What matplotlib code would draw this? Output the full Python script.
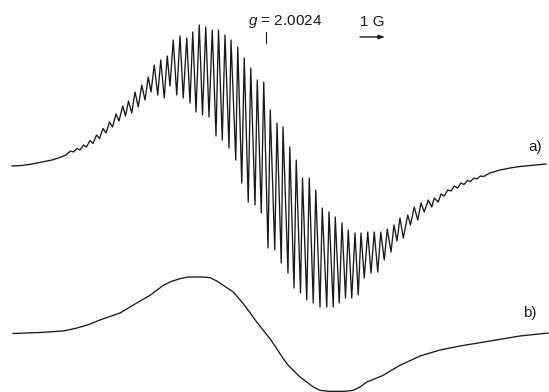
import matplotlib
matplotlib.use("Agg")
import matplotlib.pyplot as plt

plt.rcParams["font.family"] = ["Liberation Sans", "DejaVu Sans"]
plt.rcParams["mathtext.fontset"] = "custom"
plt.rcParams["mathtext.it"] = "Liberation Sans:italic"
plt.rcParams["mathtext.rm"] = "Liberation Sans"

# Spectrum a): field offset from g = 2.0024 (G) and first-derivative intensity (arb. units)
field_a = [
    -10.16, -9.76, -9.36, -8.96, -8.56, -8.24, -8.00,
    -7.82, -7.70, -7.56, -7.44, -7.30, -7.18, -7.04, -6.92, -6.78, -6.66,
    -6.52, -6.40, -6.26, -6.14, -6.00, -5.88, -5.73, -5.62, -5.50, -5.37,
    -5.24, -5.11, -4.97, -4.84, -4.71, -4.60, -4.47, -4.33, -4.21, -4.07,
    -3.95, -3.84, -3.71, -3.57, -3.44, -3.31, -3.17, -3.04, -2.93, -2.80,
    -2.67, -2.54, -2.41, -2.28, -2.15, -2.00, -1.90, -1.75, -1.64, -1.48,
    -1.40, -1.21, -1.13, -0.97, -0.87, -0.71, -0.61, -0.44, -0.35, -0.19,
    -0.09, 0.08, 0.17, 0.35, 0.44, 0.61, 0.68, 0.88, 0.95, 1.12,
    1.21, 1.38, 1.46, 1.63, 1.73, 1.89, 1.99, 2.16, 2.25, 2.43,
    2.52, 2.69, 2.77, 2.93, 3.04, 3.18, 3.29, 3.43, 3.56, 3.69,
    3.80, 3.93, 4.07, 4.20, 4.33, 4.47, 4.59, 4.73, 4.85, 5.00,
    5.12, 5.24, 5.36, 5.49, 5.67, 5.78, 5.93, 6.07, 6.20, 6.33,
    6.49, 6.63, 6.73, 6.89, 7.00, 7.13, 7.27, 7.40, 7.53, 7.66,
    7.80, 7.92, 8.06, 8.18, 8.32, 8.44, 8.58, 8.70,
    8.96, 9.36, 9.76, 10.16, 10.56, 10.96, 11.20,
]
intensity_a = [
    -1, -0.5, 1, 3, 5, 7.5, 10,
    14, 13, 16.5, 15, 20, 18, 24.5, 21.5, 30, 26.5,
    36.5, 32, 43, 38, 51, 44, 59, 49, 64, 52,
    73, 58, 80, 65, 88, 73, 100, 70, 105, 67,
    109, 79, 125, 70, 129, 67, 127, 62, 133, 53,
    140, 50, 138, 48, 135, 29, 135, 25, 130, 17,
    125, 5, 118, -18, 107, -37, 97, -40, 85, -48,
    83, -83, 55, -85, 42, -98, 38, -108, 18, -123,
    5, -128, -13, -135, -13, -138, -25, -142, -43, -142,
    -47, -142, -52, -138, -58, -133, -65, -133, -68, -130,
    -68, -113, -67, -108, -67, -107, -67, -95, -64, -87,
    -60, -76, -53, -73, -50, -60, -42, -55, -38, -47,
    -35, -42, -33, -37, -29, -31, -25, -26, -21, -23,
    -18, -19.5, -15.5, -16.5, -13, -14, -11, -11.5,
    -8, -5, -3, -1.5, -0.5, 0.5, 1,
]

# Spectrum b): same field axis, broad unresolved line
field_b = [
    -10.12, -9.04, -8.12, -7.64, -7.14, -6.64, -5.84, -5.24, -4.64, -4.37,
    -4.11, -3.77, -3.44, -3.11, -2.77, -2.51, -2.24, -1.97, -1.71, -1.31,
    -1.11, -0.91, -0.64, -0.37, -0.11, 0.16, 0.43, 0.69, 0.89, 1.09,
    1.36, 1.63, 1.89, 2.16, 2.49, 2.83, 3.16, 3.49, 3.76, 4.03,
    4.36, 4.69, 5.02, 5.36, 6.16, 6.96, 7.76, 8.96, 10.16, 11.28,
]
intensity_b = [
    -0.5, 0.5, 2, 4.5, 8, 13, 20, 29, 37.7, 42.7,
    47.7, 51.7, 54.3, 56, 56, 56, 55.3, 52, 47.7, 41,
    35.3, 29.3, 20.3, 11, 2.7, -5.7, -15.7, -25.7, -32.3, -37.3,
    -44, -49, -54, -57.3, -58.3, -58.3, -58.3, -57.3, -54, -49,
    -45.7, -42.3, -37.3, -32.3, -23, -17, -13, -8, -3, 0,
]

offset_b = -168          # vertical stacking of trace b below trace a
g_marker_field = 0.0     # position of g = 2.0024
scale_start, scale_len = 3.76, 1.0   # 1 G scale bar

fig = plt.figure(figsize=(5.49, 3.92), dpi=100)
ax = fig.add_axes([0, 0, 1, 1])
ax.set_xlim(-10.64, 11.32)
ax.set_ylim(-227, 165)
ax.axis("off")

line_kw = dict(color="#1a1a1a", lw=0.95, solid_joinstyle="round")
ax.plot(field_a, intensity_a, **line_kw)
ax.plot(field_b, [v + offset_b for v in intensity_b], **line_kw)

ax.text(10.76, 18, "a)", fontsize=11, ha="center", va="center", color="#1a1a1a")
ax.text(10.56, -148, "b)", fontsize=11, ha="center", va="center", color="#1a1a1a")

# g-value marker
ax.text(-0.72, 143, "$g$ = 2.0024", fontsize=11, ha="left", va="center", color="#1a1a1a")
ax.plot([g_marker_field, g_marker_field], [133, 122], color="#1a1a1a", lw=0.8)

# field scale bar
ax.text(scale_start + scale_len / 2, 143, "1 G", fontsize=11, ha="center", va="center",
        color="#1a1a1a")
ax.annotate("", xy=(scale_start + scale_len, 128), xytext=(scale_start, 128),
            arrowprops=dict(arrowstyle="-|>,head_length=0.35,head_width=0.12",
                            color="#1a1a1a", lw=1.0, shrinkA=0, shrinkB=0))

fig.savefig("out.png", dpi=100)
